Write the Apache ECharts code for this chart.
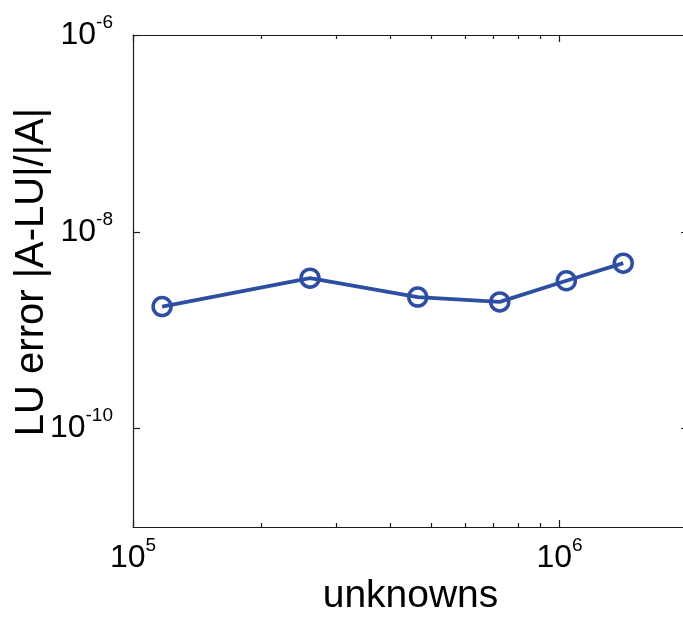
<!DOCTYPE html>
<html>
<head>
<meta charset="utf-8">
<script src="https://cdn.jsdelivr.net/npm/echarts@6/dist/echarts.min.js"></script>
<style>html,body{margin:0;padding:0;background:#fff;}#c{width:683px;height:622px;}</style>
</head>
<body>
<div id="c"></div>
<script>
const unknowns = [1.17e5, 2.6e5, 4.65e5, 7.24e5, 1.037e6, 1.41e6];
const luError = [1.74e-9, 3.38e-9, 2.17e-9, 1.94e-9, 3.18e-9, 4.8e-9];
const xMajorTicks = [1e5, 1e6];
const xMinorTicks = [2e5, 3e5, 4e5, 5e5, 6e5, 7e5, 8e5, 9e5, 2e6];
const yMajorTicks = [1e-10, 1e-8, 1e-6];
const xRange = [1e5, 2e6];
const yRange = [1e-11, 1e-6];

const FONT = 'Liberation Sans, Arial, Helvetica, sans-serif';
const AX = '#1a1a1a';
const BLUE = '#2d4ea1';

function powLabel(v) {
  const e = Math.round(Math.log10(v));
  return '{b|10}{s|' + e + '}';
}
const rich = {
  b: { fontSize: 32, fontFamily: FONT, color: '#000', lineHeight: 44 },
  s: { fontSize: 19, fontFamily: FONT, color: '#000', verticalAlign: 'top', lineHeight: 20 }
};

function xAx(pos, ticks, len, showLine, showLabel, extra) {
  return Object.assign({
    type: 'log', logBase: 10, min: xRange[0], max: xRange[1], position: pos, gridIndex: 0,
    axisLine: { show: showLine, onZero: false, lineStyle: { color: AX, width: 1.2 } },
    axisTick: { show: true, inside: true, length: len, customValues: ticks, lineStyle: { color: AX, width: 1.2 } },
    axisLabel: { show: showLabel, customValues: xMajorTicks, formatter: powLabel, rich: rich, margin: 9 },
    splitLine: { show: false }, minorTick: { show: false }, minorSplitLine: { show: false }
  }, extra || {});
}
function yAx(pos, showLabel, extra) {
  return Object.assign({
    type: 'log', logBase: 10, min: yRange[0], max: yRange[1], position: pos, gridIndex: 0,
    axisLine: { show: true, onZero: false, lineStyle: { color: AX, width: 1.2 } },
    axisTick: { show: true, inside: true, length: 7, customValues: yMajorTicks, lineStyle: { color: AX, width: 1.2 } },
    axisLabel: { show: showLabel, customValues: yMajorTicks, formatter: powLabel, rich: rich, margin: 20 },
    splitLine: { show: false }, minorTick: { show: false }, minorSplitLine: { show: false }
  }, extra || {});
}

const chart = echarts.init(document.getElementById('c'), null, { renderer: 'canvas' });
chart.setOption({
  backgroundColor: '#fff',
  animation: false,
  grid: { left: 133, top: 35, right: -5, bottom: 95, containLabel: false, outerBoundsMode: 'none' },
  xAxis: [
    xAx('bottom', xMajorTicks, 7, true, true, {
      name: 'unknowns', nameLocation: 'middle', nameGap: 50, nameMoveOverlap: false,
      nameTextStyle: { fontSize: 39, fontFamily: FONT, color: '#000' }
    }),
    xAx('bottom', xMinorTicks, 4, false, false),
    xAx('top', xMajorTicks, 7, true, false),
    xAx('top', xMinorTicks, 4, false, false)
  ],
  yAxis: [
    yAx('left', true, {
      name: 'LU error |A-LU|/|A|', nameLocation: 'middle', nameGap: 81, nameMoveOverlap: false,
      nameTextStyle: { fontSize: 40, fontFamily: FONT, color: '#000', padding: [0, 0, 0, 18] }
    }),
    yAx('right', false)
  ],
  series: [{
    type: 'line',
    xAxisIndex: 0, yAxisIndex: 0,
    data: unknowns.map((x, i) => [x, luError[i]]),
    symbol: 'circle', symbolSize: 18,
    lineStyle: { color: BLUE, width: 3.8 },
    itemStyle: { color: 'rgba(0,0,0,0)', borderColor: BLUE, borderWidth: 3.5 },
    z: 5
  }]
});
</script>
</body>
</html>
